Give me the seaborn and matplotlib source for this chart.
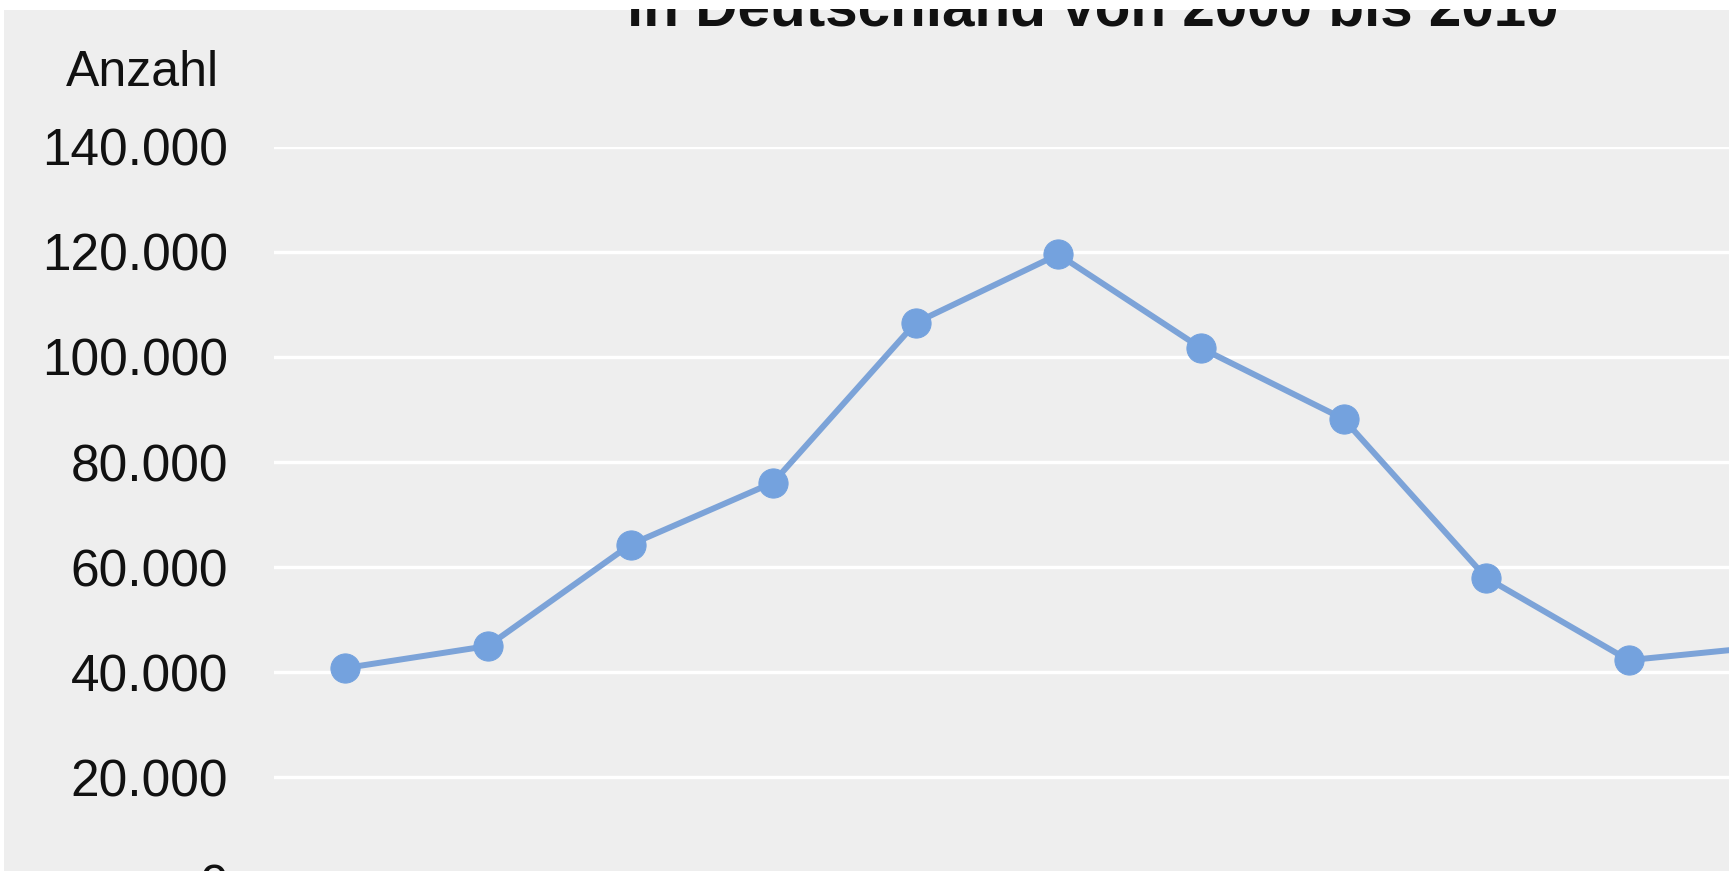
import matplotlib
matplotlib.use("Agg")
import matplotlib.pyplot as plt
import seaborn as sns
import pandas as pd
from matplotlib.patches import Rectangle
from matplotlib.ticker import FuncFormatter

years = [2000, 2001, 2002, 2003, 2004, 2005, 2006, 2007, 2008, 2009, 2010]
anzahl = [40800, 45000, 64300, 76100, 106500, 119500, 101700, 88200, 58000, 42300, 45000]
y_ticks = [0, 20000, 40000, 60000, 80000, 100000, 120000, 140000]
title_line = "in Deutschland von 2000 bis 2010"
y_label = "Anzahl"

df = pd.DataFrame({"Jahr": years, "Anzahl": anzahl})

sns.set_style("white")
plt.rcParams["font.family"] = ["Liberation Sans", "DejaVu Sans"]

W, H = 1729, 871
fig = plt.figure(figsize=(W / 100, H / 100), dpi=100)
fig.patch.set_facecolor("white")
bg = "#eeeeee"
fig.patches.append(Rectangle((4 / W, 0), 1, 1 - 10 / H, transform=fig.transFigure,
                             facecolor=bg, edgecolor="none", zorder=-10))

left = 274 / W
width = 11 * 142.6 / W
bottom = (H - 882.5) / H
height = (882.5 - 146.7) / H
ax = fig.add_axes([left, bottom, width, height])
ax.set_facecolor(bg)

sns.lineplot(data=df, x="Jahr", y="Anzahl", ax=ax, color="#7ca3d8", linewidth=4.3,
             marker="o", markersize=21, markerfacecolor="#74a2de", markeredgecolor="#74a2de",
             zorder=5)

ax.set_xlim(years[0] - 0.5, years[-1] + 0.5)
ax.set_ylim(0, 140000)
ax.set_yticks(y_ticks)
ax.yaxis.set_major_formatter(FuncFormatter(lambda v, p: f"{int(v):,}".replace(",", ".")))
ax.tick_params(axis="y", length=0, pad=33, labelsize=37, labelcolor="#111111")
ax.set_xticks([])
ax.set_xlabel("")
ax.set_ylabel("")
ax.grid(axis="y", color="white", linewidth=2.5)
ax.set_axisbelow(True)
for s in ax.spines.values():
    s.set_visible(False)

fig.text(66 / W, 1 - 73 / H, y_label, fontsize=36, ha="left", va="center", color="#111111")
fig.text(1093 / W, 1 - 25 / H, title_line, fontsize=42, fontweight="bold",
         ha="center", va="baseline", color="#111111", zorder=1)
# white strip across the very top, over the clipped title
fig.patches.append(Rectangle((0, 1 - 9 / H), 1, 9 / H, transform=fig.transFigure,
                             facecolor="white", edgecolor="none", zorder=20))

fig.savefig("out.png", dpi=100, facecolor=fig.get_facecolor())
